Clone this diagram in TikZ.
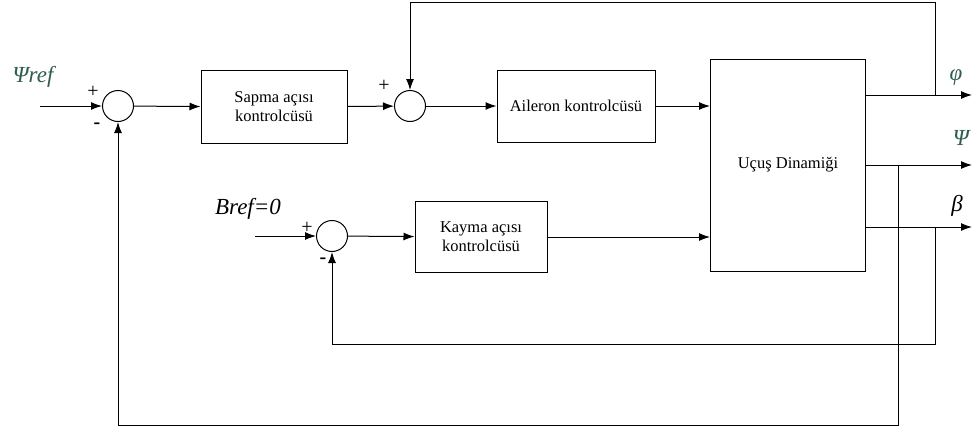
\documentclass[tikz,border=0pt]{standalone}
\usepackage{fontspec}
\setmainfont{Liberation Serif}
\usepackage{tikz}
\usetikzlibrary{arrows.meta}
\definecolor{labelgreen}{RGB}{46,94,78}

\begin{document}
\begin{tikzpicture}[x=1pt,y=-1pt,line width=1pt,>={Latex[length=11pt,width=8pt]}]
\tikzstyle{block}=[draw,rectangle,align=center,font=\fontsize{16.5}{19}\selectfont]
\tikzstyle{sum}=[draw,circle,minimum size=31pt,inner sep=0pt]
\tikzstyle{sig}=[font=\fontsize{23}{26}\selectfont\itshape]
\tikzstyle{sign}=[font=\fontsize{20}{22}\selectfont,inner sep=0pt]
\useasboundingbox (0,0) rectangle (972,434);
% blocks and summing points
\node [sum] (s1) at (118,106) {};
\node [block,minimum width=146pt,minimum height=73pt] (sapma) at (274,107) {Sapma açısı\\kontrolcüsü};
\node [sum] (s2) at (410,106) {};
\node [block,minimum width=158pt,minimum height=72pt] (aileron) at (576,106) {Aileron kontrolcüsü};
\node [block,minimum width=155pt,minimum height=212pt] (dyn) at (788,165) {Uçuş Dinamiği};
\node [sum] (s3) at (332,236) {};
\node [block,minimum width=132pt,minimum height=71pt] (kayma) at (481,237) {Kayma açısı\\kontrolcüsü};
% inputs and outputs
\coordinate (in1) at (40,106);
\coordinate (in3) at (255,236);
\coordinate (phiout) at (972,95);
\coordinate (psiout) at (972,165);
\coordinate (betaout) at (972,227);
\coordinate (tapphi) at (935,95);
\coordinate (tappsi) at (898,165);
\coordinate (tapbeta) at (935,227);
\node [sig,text=labelgreen] (psiref) at (33,77) {Ψref};
\node [sig] (bref) at (248,209) {Bref=0};
\node [sig,text=labelgreen] (phi) at (956,78) {φ};
\node [sig,text=labelgreen] (psi) at (961,138) {Ψ};
\node [sig] (beta) at (957,206) {β};
\node [sign] (p1) at (93,92) {+};
\node [sign] (m1) at (97,126) {\textbf{-}};
\node [sign] (p2) at (384,86) {+};
\node [sign] (p3) at (307,228) {+};
\node [sign] (m3) at (323,261) {\textbf{-}};
% forward path
\draw [->] (in1) -- (s1);
\draw [->] (s1) -- (sapma);
\draw [->] (sapma) -- (s2);
\draw [->] (s2) -- (aileron);
\draw [->] (aileron) -- (aileron -| dyn.west);
\draw [->] (in3) -- (s3);
\draw [->] (s3) -- (kayma);
\draw [->] (kayma) -- (kayma -| dyn.west);
\draw [->] (phiout -| dyn.east) -- (phiout);
\draw [->] (psiout -| dyn.east) -- (psiout);
\draw [->] (betaout -| dyn.east) -- (betaout);
% feedback loops
\draw [->] (tapphi) -- (935,2) -| (s2.north);
\draw [->] (tapbeta) -- (935,344) -| (s3.south);
\draw [->] (tappsi) -- (898,425) -| (s1.south);
\end{tikzpicture}
\end{document}
